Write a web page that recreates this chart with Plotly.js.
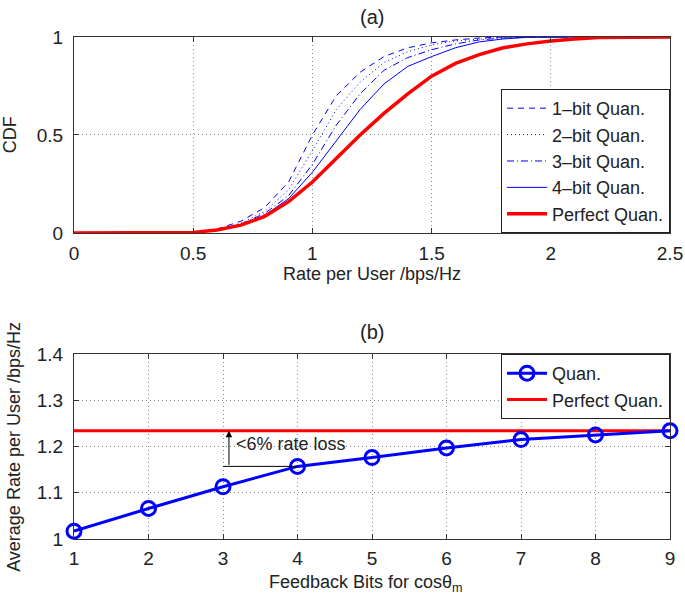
<!DOCTYPE html>
<html>
<head>
<meta charset="utf-8">
<script src="https://cdn.plot.ly/plotly-3.0.1.min.js"></script>
<style>html,body{margin:0;padding:0;background:#fff}#chart{width:685px;height:599px}</style>
</head>
<body>
<div id="chart"></div>
<script>
// ---- Panel (a): CDF of rate per user ----
const rateX = [0, 0.5, 0.6, 0.7, 0.8, 0.9, 1.0, 1.1, 1.2, 1.3, 1.4, 1.5, 1.6, 1.7, 1.8, 1.9, 2.0, 2.1, 2.2, 2.5];
const cdf1bit    = [0, 0.003, 0.02, 0.06, 0.13, 0.26, 0.50, 0.70, 0.82, 0.90, 0.945, 0.97, 0.985, 0.995, 1.0, 1.0, 1.0, 1.0, 1.0, 1.0];
const cdf2bit    = [0, 0.002, 0.016, 0.05, 0.11, 0.22, 0.42, 0.63, 0.77, 0.87, 0.925, 0.96, 0.98, 0.99, 0.998, 1.0, 1.0, 1.0, 1.0, 1.0];
const cdf3bit    = [0, 0.002, 0.014, 0.045, 0.10, 0.19, 0.35, 0.55, 0.71, 0.83, 0.895, 0.935, 0.965, 0.985, 0.995, 1.0, 1.0, 1.0, 1.0, 1.0];
const cdf4bit    = [0, 0.002, 0.013, 0.042, 0.09, 0.175, 0.31, 0.47, 0.63, 0.76, 0.85, 0.90, 0.945, 0.975, 0.99, 0.998, 1.0, 1.0, 1.0, 1.0];
const cdfPerfect = [0, 0.003, 0.015, 0.04, 0.085, 0.16, 0.26, 0.38, 0.50, 0.61, 0.71, 0.80, 0.865, 0.91, 0.945, 0.965, 0.98, 0.99, 0.998, 1.0];
const cdfNames = ['1\u2013bit Quan.', '2\u2013bit Quan.', '3\u2013bit Quan.', '4\u2013bit Quan.', 'Perfect Quan.'];
const xTicksA = [0, 0.5, 1, 1.5, 2, 2.5];
const xTickTextA = ['0', '0.5', '1', '1.5', '2', '2.5'];
const yTicksA = [0, 0.5, 1];
const yTickTextA = ['0', '0.5', '1'];

// ---- Panel (b): average rate vs feedback bits ----
const feedbackBits = [1, 2, 3, 4, 5, 6, 7, 8, 9];
const avgRateQuan = [1.017, 1.066, 1.113, 1.157, 1.176, 1.197, 1.215, 1.225, 1.234];
const avgRatePerfect = [1.234, 1.234];
const perfectX = [1, 9];
const bNames = ['Quan.', 'Perfect Quan.'];
const xTicksB = [1, 2, 3, 4, 5, 6, 7, 8, 9];
const yTicksB = [1, 1.1, 1.2, 1.3, 1.4];
const yTickTextB = ['1', '1.1', '1.2', '1.3', '1.4'];
const lossLabel = '<6% rate loss';
const lossArrowX = 3.08, lossBaseY = 1.157, lossTopY = 1.234;
const lossLineX0 = 3.0, lossLineX1 = 4.0;
const lossTextX = 3.15, lossTextY = 1.205;

// ---- Text ----
const titleA = '(a)', titleB = '(b)';
const xTitleA = 'Rate per User /bps/Hz', yTitleA = 'CDF';
const xTitleB = 'Feedback Bits for cos\u03b8<sub>m</sub>', yTitleB = 'Average Rate per User /bps/Hz';

const FONT = 'Liberation Sans, Arial, Helvetica, sans-serif';
const BLUE = '#0000ff', RED = '#ff0000';
const TXT = '#222';

const traces = [
  {x: rateX, y: cdf1bit, name: cdfNames[0], mode: 'lines', line: {color: BLUE, width: 1, dash: '6px,5px'}, xaxis: 'x', yaxis: 'y', legend: 'legend'},
  {x: rateX, y: cdf2bit, name: cdfNames[1], mode: 'lines', line: {color: BLUE, width: 1, dash: '1px,3px'}, xaxis: 'x', yaxis: 'y', legend: 'legend'},
  {x: rateX, y: cdf3bit, name: cdfNames[2], mode: 'lines', line: {color: BLUE, width: 1, dash: '7px,3px,1px,3px'}, xaxis: 'x', yaxis: 'y', legend: 'legend'},
  {x: rateX, y: cdf4bit, name: cdfNames[3], mode: 'lines', line: {color: BLUE, width: 1}, xaxis: 'x', yaxis: 'y', legend: 'legend'},
  {x: rateX, y: cdfPerfect, name: cdfNames[4], mode: 'lines', line: {color: RED, width: 3.5}, xaxis: 'x', yaxis: 'y', legend: 'legend'},
  {x: perfectX, y: avgRatePerfect, name: bNames[1], mode: 'lines', line: {color: RED, width: 3}, xaxis: 'x2', yaxis: 'y2', legend: 'legend2'},
  {x: feedbackBits, y: avgRateQuan, name: bNames[0], mode: 'lines+markers', line: {color: BLUE, width: 3},
   marker: {symbol: 'circle-open', size: 14, color: BLUE, line: {width: 3, color: BLUE}}, xaxis: 'x2', yaxis: 'y2', legend: 'legend2', cliponaxis: false}
];

function ax(extra) {
  const base = {
    showline: true, linecolor: '#333', linewidth: 1, mirror: 'ticks',
    ticks: 'inside', ticklen: 5, tickcolor: '#333',
    showgrid: true, gridcolor: '#8a8a8a', gridwidth: 1, griddash: '1px,3px',
    zeroline: false, automargin: false, tickfont: {family: FONT, size: 19, color: TXT}
  };
  return Object.assign(base, extra);
}

const TOPD = [0.6096, 1], BOTD = [0, 0.3685];

const layout = {
  width: 685, height: 599,
  margin: {l: 74, r: 15, t: 37, b: 60},
  paper_bgcolor: '#fff', plot_bgcolor: '#fff',
  font: {family: FONT, size: 18, color: TXT},
  xaxis: ax({domain: [0, 1], range: [0, 2.5], tickvals: xTicksA, ticktext: xTickTextA, anchor: 'y', ticklabelstandoff: 3}),
  yaxis: ax({domain: TOPD, range: [0, 1], tickvals: yTicksA, ticktext: yTickTextA, anchor: 'x', ticklabelstandoff: 6}),
  xaxis2: ax({domain: [0, 1], range: [1, 9], tickvals: xTicksB, anchor: 'y2', ticklabelstandoff: 2}),
  yaxis2: ax({domain: BOTD, range: [1, 1.4], tickvals: yTicksB, ticktext: yTickTextB, anchor: 'x2', ticklabelstandoff: 6}),
  legend: {x: 1, xanchor: 'right', y: TOPD[0], yanchor: 'bottom', bgcolor: '#fff', bordercolor: '#222', borderwidth: 1,
           font: {family: FONT, size: 18, color: TXT}, tracegroupgap: 0, itemwidth: 40},
  legend2: {x: 1, xanchor: 'right', y: BOTD[1], yanchor: 'top', bgcolor: '#fff', bordercolor: '#222', borderwidth: 1,
            font: {family: FONT, size: 18, color: TXT}, traceorder: 'reversed', itemwidth: 40},
  shapes: [
    {type: 'line', xref: 'x2', yref: 'y2', x0: lossLineX0, x1: lossLineX1, y0: lossBaseY, y1: lossBaseY, line: {color: '#000', width: 1}}
  ],
  annotations: [
    {text: titleA, xref: 'paper', yref: 'paper', x: 0.5, y: 1.04, xanchor: 'center', yanchor: 'middle', showarrow: false,
     font: {family: FONT, size: 20, color: TXT}},
    {text: titleB, xref: 'paper', yref: 'paper', x: 0.5, y: 0.412, xanchor: 'center', yanchor: 'middle', showarrow: false,
     font: {family: FONT, size: 20, color: TXT}},
    {text: xTitleA, xref: 'paper', yref: 'paper', x: 0.5, y: 0.528, xanchor: 'center', yanchor: 'middle', showarrow: false,
     font: {family: FONT, size: 18, color: TXT}},
    {text: yTitleA, xref: 'paper', yref: 'paper', x: -0.107, y: 0.8048, xanchor: 'center', yanchor: 'middle', showarrow: false,
     textangle: -90, font: {family: FONT, size: 18, color: TXT}},
    {text: xTitleB, xref: 'paper', yref: 'paper', x: 0.49, y: -0.089, xanchor: 'center', yanchor: 'middle', showarrow: false,
     font: {family: FONT, size: 18, color: TXT}},
    {text: yTitleB, xref: 'paper', yref: 'paper', x: -0.102, y: 0.184, xanchor: 'center', yanchor: 'middle', showarrow: false,
     textangle: -90, font: {family: FONT, size: 18, color: TXT}},
    {text: '', xref: 'x2', yref: 'y2', x: lossArrowX, y: lossTopY, axref: 'x2', ayref: 'y2', ax: lossArrowX, ay: lossBaseY,
     showarrow: true, arrowhead: 2, arrowsize: 1.3, arrowwidth: 1, arrowcolor: '#000', standoff: 0, startstandoff: 0},
    {text: lossLabel, xref: 'x2', yref: 'y2', x: lossTextX, y: lossTextY, xanchor: 'left', yanchor: 'middle', showarrow: false,
     font: {family: FONT, size: 18, color: TXT}}
  ],
  showlegend: true
};

Plotly.newPlot('chart', traces, layout, {displayModeBar: false, staticPlot: true});
</script>
</body>
</html>
